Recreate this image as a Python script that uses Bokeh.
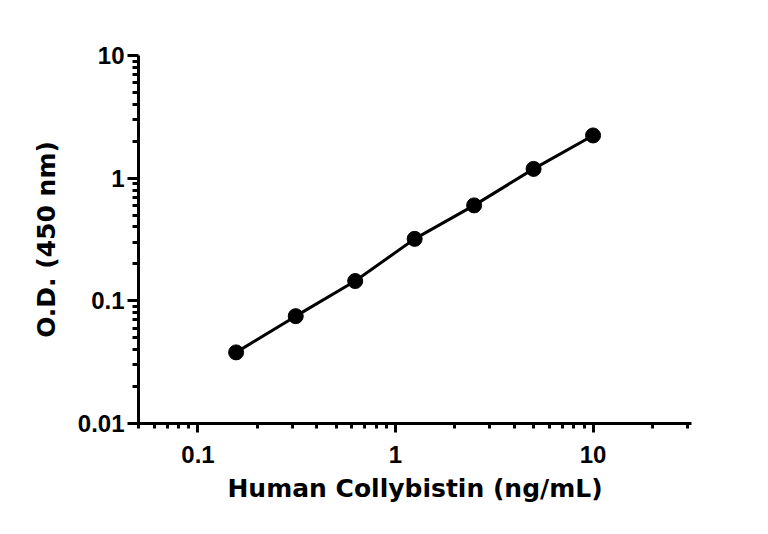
from bokeh.plotting import figure
from bokeh.models import Range1d, FixedTicker
from bokeh.embed import file_html
from bokeh.resources import INLINE

# Data
conc = [0.156, 0.3125, 0.625, 1.25, 2.5, 5.0, 10.0]
od = [0.038, 0.075, 0.145, 0.32, 0.60, 1.19, 2.23]

x_major = [0.1, 1, 10]
y_major = [0.01, 0.1, 1, 10]
x_minor = [m * d for d in (0.01, 0.1, 1, 10) for m in range(2, 10) if 0.05 <= m * d <= 30]
y_minor = [m * d for d in (0.01, 0.1, 1) for m in range(2, 10)]

TICK_FONT = "Liberation Sans"
TITLE_FONT = "DejaVu Sans"

p = figure(width=768, height=534, x_axis_type="log", y_axis_type="log",
           x_range=Range1d(0.05, 31.5), y_range=Range1d(0.01, 10),
           output_backend="svg", toolbar_location=None,
           min_border_left=138, min_border_right=77, min_border_top=55, min_border_bottom=111)
p.outline_line_color = None
p.grid.visible = False
p.background_fill_color = "white"
p.border_fill_color = "white"

p.line(conc, od, line_color="black", line_width=3)
p.scatter(conc, od, size=15, fill_color="black", line_color="black")

p.xaxis.ticker = FixedTicker(ticks=x_major, minor_ticks=x_minor)
p.yaxis.ticker = FixedTicker(ticks=y_major, minor_ticks=y_minor)
p.xaxis.major_label_overrides = {0.1: "0.1", 1: "1", 10: "10"}
p.yaxis.major_label_overrides = {0.01: "0.01", 0.1: "0.1", 1: "1", 10: "10"}

for ax in (p.xaxis[0], p.yaxis[0]):
    ax.axis_line_width = 3
    ax.axis_line_color = "black"
    ax.major_tick_line_width = 3
    ax.minor_tick_line_width = 3
    ax.major_tick_line_color = "black"
    ax.minor_tick_line_color = "black"
    ax.major_tick_in = 0
    ax.minor_tick_in = 0
    ax.major_label_text_font = TICK_FONT
    ax.major_label_text_font_style = "bold"
    ax.major_label_text_font_size = "24px"
    ax.major_label_text_color = "black"
    ax.axis_label_text_font = TITLE_FONT
    ax.axis_label_text_font_style = "bold"
    ax.axis_label_text_font_size = "25px"
    ax.axis_label_text_color = "black"

p.xaxis.major_tick_out = 9
p.xaxis.minor_tick_out = 5
p.yaxis.major_tick_out = 11
p.yaxis.minor_tick_out = 6
p.xaxis.major_label_standoff = 13
p.yaxis.major_label_standoff = 3
p.xaxis.axis_label = "Human Collybistin (ng/mL)"
p.yaxis.axis_label = "O.D. (450 nm)"
p.xaxis.axis_label_standoff = 8
p.yaxis.axis_label_standoff = 14

open("out.html", "w").write(file_html(p, INLINE))
